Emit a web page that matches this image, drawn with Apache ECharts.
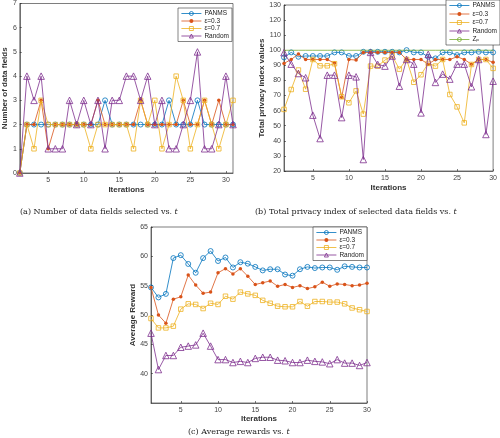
<!DOCTYPE html>
<html><head><meta charset="utf-8">
<script src="https://cdn.jsdelivr.net/npm/echarts@6/dist/echarts.min.js"></script>
<style>html,body{margin:0;padding:0;background:#fff}#c{width:500px;height:438px}</style>
</head><body><div id="c"></div>
<script>
// ---------- data ----------
const itersA = [1,2,3,4,5,6,7,8,9,10,11,12,13,14,15,16,17,18,19,20,21,22,23,24,25,26,27,28,29,30,31];
const fieldsPANMS = [0,2,2,2,2,2,2,2,2,2,2,2,3,2,2,2,2,2,2,2,2,3,2,2,2,3,2,2,2,2,2];
const fieldsE03   = [0,2,2,3,1,2,2,2,2,2,2,3,2,2,2,2,2,3,2,2,2,2,2,3,2,2,3,2,3,2,2];
const fieldsE07   = [0,2,1,3,2,2,2,2,2,2,1,2,2,2,2,2,1,3,2,3,1,2,4,3,1,2,3,2,1,2,3];
const fieldsRand  = [0,4,3,4,1,1,1,3,2,3,2,3,1,3,3,4,4,3,4,2,3,1,1,2,3,5,1,1,2,4,2];

const itersB = [1,2,3,4,5,6,7,8,9,10,11,12,13,14,15,16,17,18,19,20,21,22,23,24,25,26,27,28,29,30];
const privPANMS = [95.3,98.6,95.7,96.2,96.2,96.2,96.2,98.6,98.6,96.2,96.2,99.0,99.0,99.0,99.0,99.0,98.6,100.1,98.6,98.6,95.7,94.6,98.6,98.6,96.8,98.6,98.6,99.0,98.6,98.6];
const privE03   = [91.3,93.9,97.5,93.9,93.9,93.9,93.9,91.5,68.8,93.9,93.5,98.6,98.6,98.6,98.6,98.6,98.6,93.9,93.9,93.9,90.8,93.9,93.9,93.9,95.7,93.9,90.8,93.9,93.9,92.0];
const privE07   = [60.8,74.0,86.9,74.2,93.9,89.7,89.7,91.1,69.2,65.2,73.1,57.7,89.5,89.5,93.5,96.4,87.5,93.9,78.8,83.8,91.3,89.5,93.9,70.7,62.5,51.9,90.6,93.9,93.9,88.0];
const privRand  = [98.4,90.8,84.6,81.8,57.0,41.5,83.5,83.5,55.4,83.5,82.4,27.6,98.6,90.6,89.5,96.2,76.2,93.9,90.8,58.5,97.3,78.7,84.2,80.9,90.8,90.8,75.8,93.9,44.2,79.5];
const privZp    = [100,100,100,100,100,100,100,100,100,100,100,100,100,100,100,100,100,100,100,100,100,100,100,100,100,100,100,100,100,100];

const itersC = itersB;
const rewPANMS = [54.7,53.0,53.6,59.7,60.2,58.7,57.2,59.7,60.9,59.2,59.8,58.1,59.0,58.75,58.2,57.6,57.8,57.8,56.9,56.7,57.8,58.2,58.0,58.1,58.1,57.7,58.3,58.2,58.1,58.1];
const rewE03   = [54.7,50.0,48.6,52.7,53.1,56.8,55.1,53.7,53.9,57.2,57.9,57.0,57.9,56.6,55.2,55.5,55.8,54.9,55.2,54.7,55.0,54.5,54.8,55.6,54.9,55.3,55.2,55.0,55.1,55.4];
const rewE07   = [49.4,47.8,47.8,48.1,51.0,51.9,51.8,51.1,52.0,51.8,53.2,52.7,53.9,53.6,53.35,52.5,52.0,51.5,51.4,51.4,52.3,51.5,52.3,52.3,52.2,52.2,51.9,51.2,50.9,50.6];
const rewRand  = [46.9,40.7,43.1,43.1,44.5,44.7,44.9,46.9,44.7,42.4,42.4,41.9,42.1,41.9,42.6,42.8,42.8,42.3,42.2,41.9,41.9,42.3,42.1,42.0,41.7,42.4,41.8,41.8,41.4,41.9];

const xTicks = [5,10,15,20,25,30];
const seriesNames = ['PANMS','ε=0.3','ε=0.7','Random','Zₚ'];

// ---------- styles ----------
const COL = {PANMS:'#0072BD','ε=0.3':'#D95319','ε=0.7':'#EDB120',Random:'#7E2F8E','Zₚ':'#77AC30'};
// [symbol, size, filled]
const SYM = {PANMS:['circle',5,false],'ε=0.3':['circle',3.5,true],'ε=0.7':['rect',4.5,false],Random:['triangle',6.5,false],'Zₚ':['none',0,false]};
const AX = '#262626';
const FONT = 'Liberation Sans, DejaVu Sans, Arial, sans-serif';

function itemStyleFor(name){
  const s = SYM[name];
  return {color: s[2] ? COL[name] : 'rgba(255,255,255,0)', borderColor:COL[name], borderWidth: s[2] ? 0 : 0.8};
}
function pairs(xs, ys){ return xs.map((x,i)=>[x, ys[i]]); }
function mkSeries(name, xs, ys, idx){
  const s = SYM[name];
  return {
    name, type:'line', xAxisIndex:idx, yAxisIndex:idx,
    data: pairs(xs, ys),
    symbol: s[0], symbolSize: s[1], showSymbol: s[0] !== 'none',
    lineStyle:{color:COL[name], width:0.8},
    itemStyle: itemStyleFor(name),
    emphasis:{disabled:true}, animation:false, z: 2 + seriesNames.indexOf(name)
  };
}
function xAx(idx, max, gap){
  return {gridIndex:idx, type:'value', min:1, max:max,
    name:'Iterations', nameLocation:'middle', nameGap:gap,
    nameTextStyle:{fontFamily:FONT, fontSize:8, fontWeight:'bold', color:'#333'},
    axisLine:{show:true, lineStyle:{color:AX, width:0.6}},
    axisTick:{show:true, inside:true, length:2, customValues:xTicks, lineStyle:{color:AX, width:0.6}},
    axisLabel:{customValues:xTicks, fontFamily:FONT, fontSize:7, color:'#444', margin:4},
    splitLine:{show:false}};
}
function yAx(idx, min, max, interval, name, gap, hideMin){
  return {gridIndex:idx, type:'value', min, max, interval,
    name, nameLocation:'middle', nameGap:gap,
    nameTextStyle:{fontFamily:FONT, fontSize:8, fontWeight:'bold', color:'#333'},
    axisLine:{show:true, lineStyle:{color:AX, width:0.6}},
    axisTick:{show:true, inside:true, length:2, lineStyle:{color:AX, width:0.6}},
    axisLabel:{fontFamily:FONT, fontSize:7, color:'#444', margin:3, showMinLabel: !hideMin},
    splitLine:{show:false}};
}
function legend(names, left, top, w, gap){
  return {data:names.map(n => ({name:n, itemStyle:itemStyleFor(n), lineStyle:{color:COL[n], width:0.8}})),
    orient:'vertical', left, top, width:w,
    itemWidth:20, itemHeight:5, itemGap:gap, padding:[2,3,2,3],
    backgroundColor:'#fff', borderColor:'#333', borderWidth:0.6,
    selectedMode:false,
    textStyle:{fontFamily:FONT, fontSize:6.5, lineHeight:6.5, color:'#222', padding:[0,0,0,-2]}};
}
const capStyle = {fontFamily:'DejaVu Serif, Liberation Serif, serif', fontSize:8, fontWeight:'normal', color:'#222',
  rich:{i:{fontFamily:'DejaVu Serif, Liberation Serif, serif', fontSize:8, fontStyle:'italic', color:'#222'}}};

const option = {
  backgroundColor:'#fff',
  animation:false,
  title:[
    {text:'(a) Number of data fields selected vs. {i|t}', left:20, top:208, padding:0, textStyle:capStyle},
    {text:'(b) Total privacy index of selected data fields vs. {i|t}', left:255, top:208, padding:0, textStyle:capStyle},
    {text:'(c) Average rewards vs. {i|t}', left:188, top:428, padding:0, textStyle:capStyle}
  ],
  grid:[
    {left:16, top:3, width:217, height:170, show:true, borderColor:AX, borderWidth:0.6, backgroundColor:'#fff'},
    {left:284, top:5, width:210, height:166, show:true, borderColor:AX, borderWidth:0.6, backgroundColor:'#fff'},
    {left:151, top:227, width:216, height:176, show:true, borderColor:AX, borderWidth:0.6, backgroundColor:'#fff'}
  ],
  xAxis:[ xAx(0, 31, 13), xAx(1, 30, 13), xAx(2, 30, 12) ],
  yAxis:[
    yAx(0, 0, 7, 1, 'Number of data fields', 9, false),
    yAx(1, 20, 130, 10, 'Total privacy index values', 16, false),
    yAx(2, 35, 65, 5, 'Average Reward', 12, true)
  ],
  legend:[
    legend(['PANMS','ε=0.3','ε=0.7','Random'], 178, 8, 54, 0.5),
    legend(['PANMS','ε=0.3','ε=0.7','Random','Zₚ'], 446, 0, 52, 1.5),
    legend(['PANMS','ε=0.3','ε=0.7','Random'], 313, 227, 54, 0.5)
  ],
  series:[
    mkSeries('PANMS', itersA, fieldsPANMS, 0),
    mkSeries('ε=0.3', itersA, fieldsE03, 0),
    mkSeries('ε=0.7', itersA, fieldsE07, 0),
    mkSeries('Random', itersA, fieldsRand, 0),
    mkSeries('PANMS', itersB, privPANMS, 1),
    mkSeries('ε=0.3', itersB, privE03, 1),
    mkSeries('ε=0.7', itersB, privE07, 1),
    mkSeries('Random', itersB, privRand, 1),
    mkSeries('Zₚ', itersB, privZp, 1),
    mkSeries('PANMS', itersC, rewPANMS, 2),
    mkSeries('ε=0.3', itersC, rewE03, 2),
    mkSeries('ε=0.7', itersC, rewE07, 2),
    mkSeries('Random', itersC, rewRand, 2)
  ]
};
const chart = echarts.init(document.getElementById('c'), null, {renderer:'canvas'});
chart.setOption(option);
</script></body></html>
